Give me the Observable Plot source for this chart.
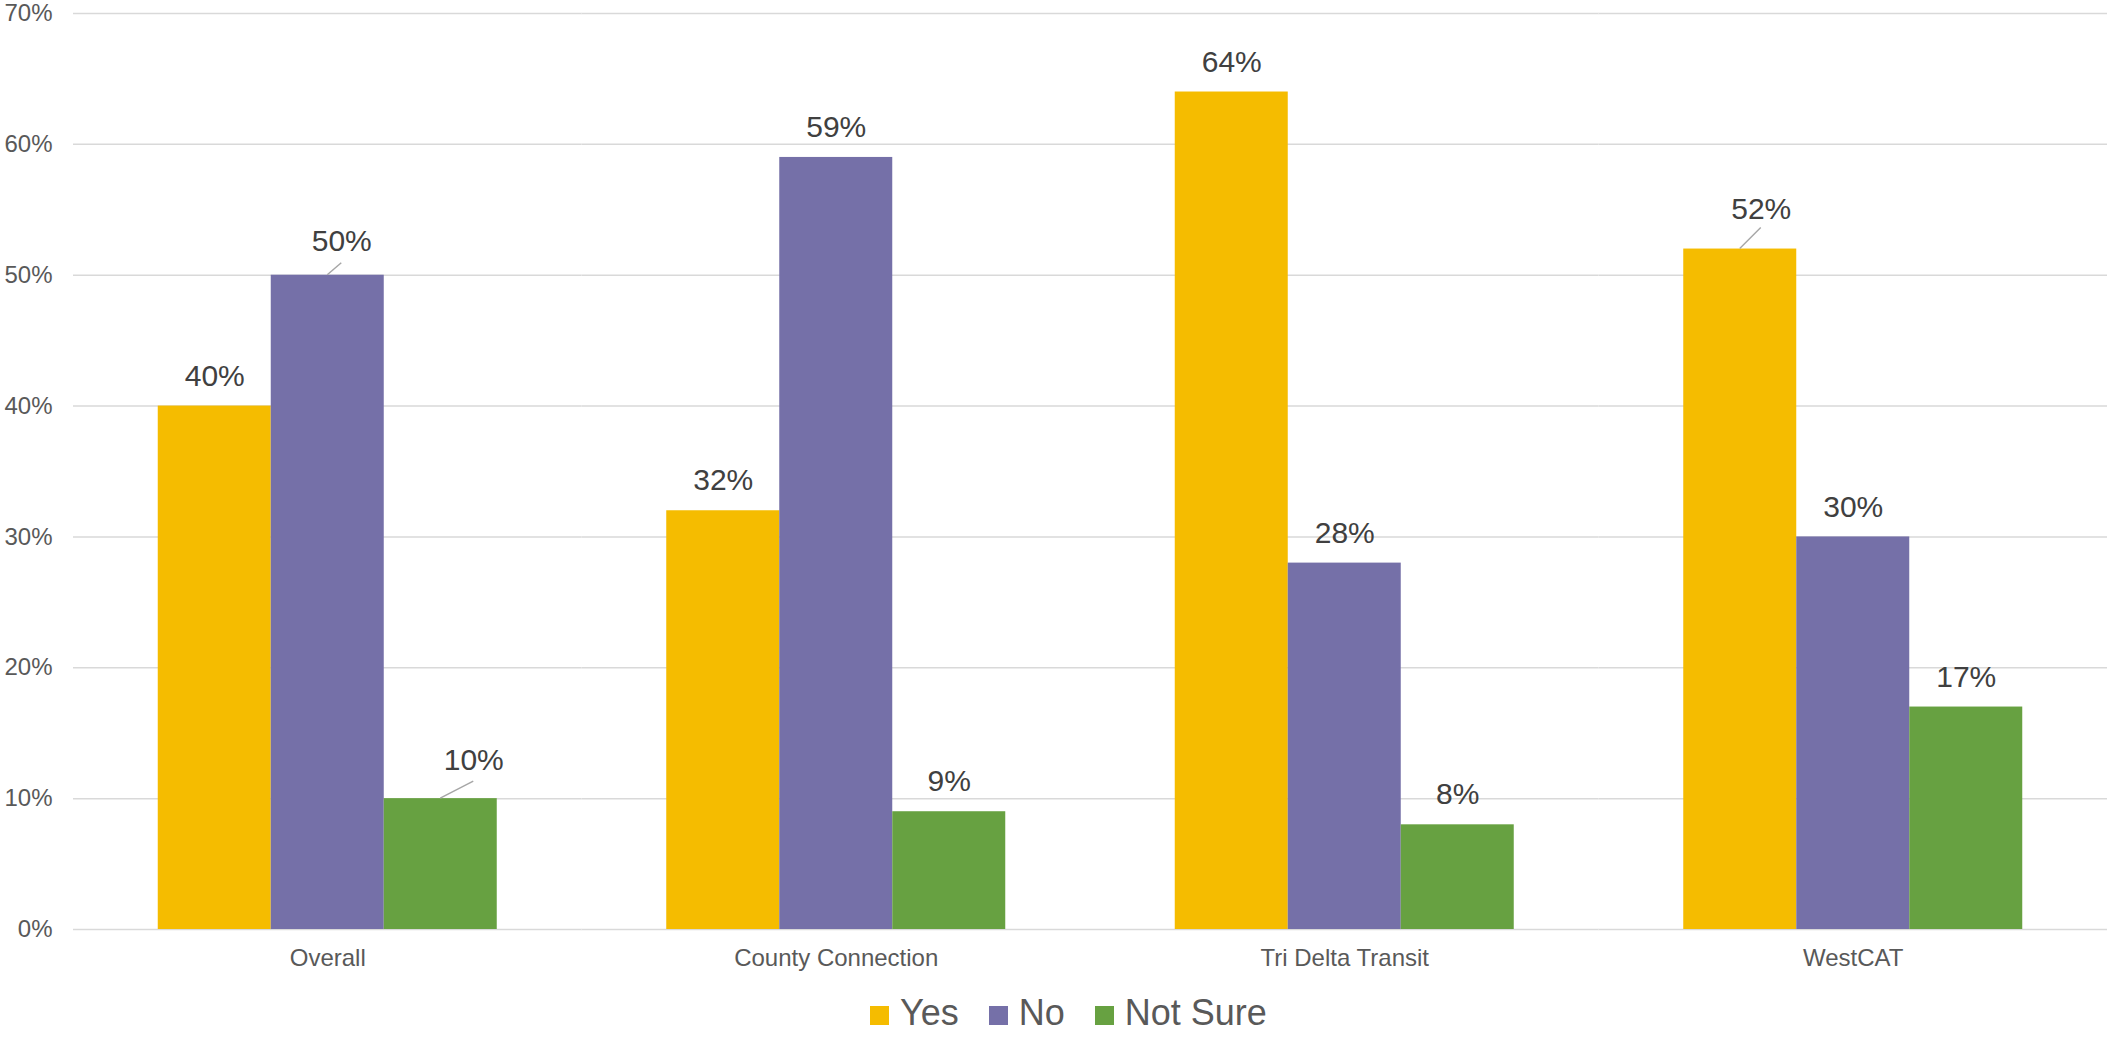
<!DOCTYPE html>
<html>
<head>
<meta charset="utf-8">
<script src="https://cdn.jsdelivr.net/npm/d3@7"></script>
<script src="https://cdn.jsdelivr.net/npm/@observablehq/plot@0.6"></script>
<style>
  html, body { margin: 0; padding: 0; background: #fff; overflow: hidden; }
  #wrap { position: relative; width: 2107px; height: 1038px; font-family: "Liberation Sans", Arial, sans-serif; }
  #legend { position: absolute; left: 870px; top: 995px; font-size: 36px; line-height: 36px; color: #595959; white-space: nowrap; }
  #legend .item { display: inline-block; margin-right: 30px; }
  #legend .sw { display: inline-block; width: 19px; height: 19px; margin-right: 11px; vertical-align: baseline; }
</style>
</head>
<body>
<div id="wrap">
  <div id="chart"></div>
  <div id="legend"></div>
</div>
<script>
// ---- data ----
const categories = ["Overall", "County Connection", "Tri Delta Transit", "WestCAT"];
const series = ["Yes", "No", "Not Sure"];
const yesValues = [0.40, 0.32, 0.64, 0.52];
const noValues = [0.50, 0.59, 0.28, 0.30];
const notSureValues = [0.10, 0.09, 0.08, 0.17];
const yTicks = [0, 0.1, 0.2, 0.3, 0.4, 0.5, 0.6, 0.7];

// ---- styles ----
const colors = ["#F5BC00", "#7570A8", "#67A141"];
const leaderStyles = [
  {category: "Overall", series: "No", dx: 14, dy: -34, lx: 14, ly: -12},
  {category: "Overall", series: "Not Sure", dx: 33, dy: -38, lx: 33, ly: -17},
  {category: "WestCAT", series: "Yes", dx: 21, dy: -40, lx: 21, ly: -21}
];

const valueSets = [yesValues, noValues, notSureValues];
const rows = [];
categories.forEach((c, i) => series.forEach((s, j) => rows.push({category: c, series: s, value: valueSets[j][i]})));

const pct = d3.format(".0%");
const isLeader = d => leaderStyles.some(l => l.category === d.category && l.series === d.series);

const textStyle = {fontSize: 30, fill: "#404040", fontFamily: "Liberation Sans, Arial, sans-serif"};

const marks = [
  Plot.ruleY(yTicks, {stroke: "#d9d9d9", strokeWidth: 1.5}),
  Plot.barY(rows, {fx: "category", x: "series", y: "value", fill: "series", inset: 0}),
  Plot.text(rows.filter(d => !isLeader(d)), {fx: "category", x: "series", y: "value", text: d => pct(d.value), dy: -30, ...textStyle})
];
leaderStyles.forEach(l => {
  marks.push(Plot.text(rows.filter(d => d.category === l.category && d.series === l.series),
    {fx: "category", x: "series", y: "value", text: d => pct(d.value), dx: l.dx, dy: l.dy, ...textStyle}));
});

const plot = Plot.plot({
  width: 2107,
  height: 990,
  marginLeft: 73,
  marginRight: 0,
  marginTop: 13,
  marginBottom: 61,
  style: {fontSize: "24px", fontFamily: "Liberation Sans, Arial, sans-serif", color: "#595959", background: "white"},
  fx: {domain: categories, padding: 0, round: false, axis: "bottom", tickSize: 0, tickPadding: 19, label: null},
  x: {domain: series, paddingInner: 0, paddingOuter: 0.75, round: false, axis: null},
  y: {domain: [0, 0.7], ticks: 7, tickFormat: pct, tickSize: 0, tickPadding: 21, label: null},
  color: {domain: series, range: colors},
  marks
});

document.getElementById("chart").appendChild(plot);

// leader lines, positioned through the plot's own scales
const fxS = plot.scale("fx"), xS = plot.scale("x"), yS = plot.scale("y");
const g = d3.select(plot).append("g");
leaderStyles.forEach(l => {
  const row = rows.find(d => d.category === l.category && d.series === l.series);
  const cx = fxS.apply(l.category) + xS.apply(l.series) - xS.range[0] + xS.bandwidth / 2;
  const cy = yS.apply(row.value);
  g.append("line")
    .attr("x1", cx).attr("y1", cy)
    .attr("x2", cx + l.lx).attr("y2", cy + l.ly)
    .attr("stroke", "#a6a6a6").attr("stroke-width", 1.5);
});

// legend
const legend = d3.select("#legend");
series.forEach((s, i) => {
  const item = legend.append("span").attr("class", "item");
  item.append("span").attr("class", "sw").style("background", colors[i]);
  item.append("span").text(s);
});
</script>
</body>
</html>
